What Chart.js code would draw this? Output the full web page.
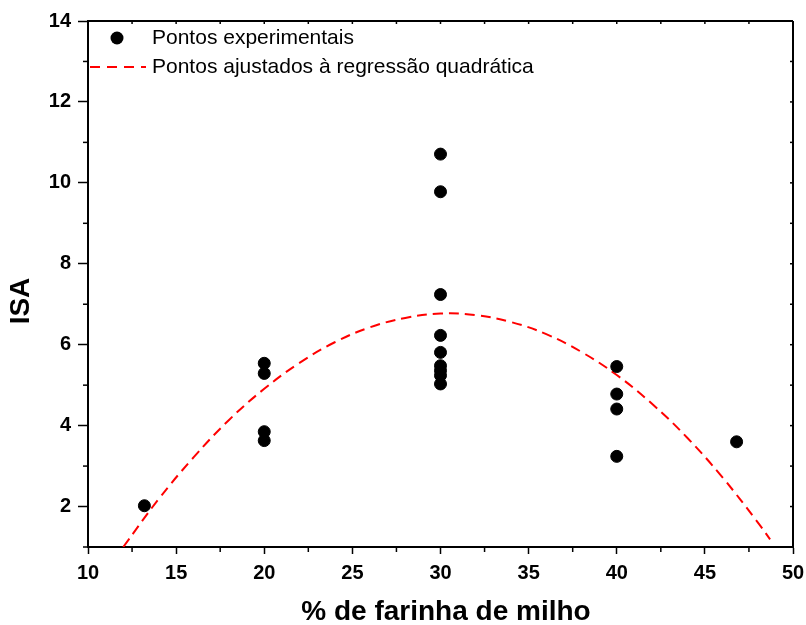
<!DOCTYPE html>
<html>
<head>
<meta charset="utf-8">
<script src="https://cdn.jsdelivr.net/npm/chart.js@4/dist/chart.umd.min.js"></script>
<style>
  html, body { margin: 0; padding: 0; background: #fff; }
</style>
</head>
<body>
<canvas id="grafico" width="806" height="625"></canvas>
<script>
// pontos experimentais
const farinhaPontos = [13.2, 20, 20, 20, 20, 30, 30, 30, 30, 30, 30, 30, 30, 30, 40, 40, 40, 40, 46.8];
const isaPontos = [2.02, 5.54, 5.29, 3.85, 3.63, 10.71, 9.78, 7.24, 6.23, 5.81, 5.48, 5.36, 5.24, 5.03, 5.46, 4.78, 4.41, 3.24, 3.6];

// curva da regressao quadratica
const farinhaAjuste = [12, 14, 16, 18, 20, 22, 24, 26, 28, 30, 32, 34, 36, 38, 40, 42, 44, 46, 48, 48.7];
const isaAjuste = [1.00, 2.18, 3.22, 4.14, 4.91, 5.55, 6.06, 6.43, 6.66, 6.77, 6.73, 6.56, 6.26, 5.82, 5.25, 4.54, 3.70, 2.72, 1.61, 1.19];

const xTicks = [10, 15, 20, 25, 30, 35, 40, 45, 50];
const yTicks = [2, 4, 6, 8, 10, 12, 14];

const fonte = '"Liberation Sans", Arial, Helvetica, sans-serif';

const extras = {
  id: 'extras',
  afterDraw(chart) {
    const { ctx, chartArea: a, scales: { x, y } } = chart;
    const seg = (x1, y1, x2, y2) => { ctx.beginPath(); ctx.moveTo(x1, y1); ctx.lineTo(x2, y2); ctx.stroke(); };
    ctx.save();
    ctx.strokeStyle = '#000';
    // moldura superior e direita
    ctx.lineWidth = 2;
    seg(a.left - 1, a.top, a.right, a.top);
    seg(a.right, a.top, a.right, a.bottom + 1);
    // ticks menores
    ctx.lineWidth = 1.5;
    for (let v = 12.5; v < 50; v += 5) {
      const px = x.getPixelForValue(v);
      seg(px, a.bottom, px, a.bottom + 5);
    }
    for (let v = 12.5; v < 50; v += 2.5) {
      const px = x.getPixelForValue(v);
      seg(px, a.top, px, a.top + 3);
    }
    for (let v = 1; v < 14; v += 2) {
      const py = y.getPixelForValue(v);
      seg(a.left - 5, py, a.left, py);
    }
    for (let v = 2; v < 14; v += 1) {
      const py = y.getPixelForValue(v);
      seg(a.right - 3, py, a.right, py);
    }
    // titulos dos eixos
    ctx.fillStyle = '#000';
    ctx.font = 'bold 28px ' + fonte;
    ctx.textAlign = 'center';
    ctx.textBaseline = 'middle';
    ctx.fillText('% de farinha de milho', 446, 612);
    ctx.save();
    ctx.translate(21, 301);
    ctx.rotate(-Math.PI / 2);
    ctx.fillText('ISA', 0, 0);
    ctx.restore();
    // legenda
    ctx.beginPath();
    ctx.arc(117, 38, 6.5, 0, Math.PI * 2);
    ctx.fill();
    ctx.strokeStyle = '#ff0000';
    ctx.lineWidth = 2;
    ctx.setLineDash([10, 7]);
    seg(90, 67, 146, 67);
    ctx.setLineDash([]);
    ctx.font = '21px ' + fonte;
    ctx.textAlign = 'left';
    ctx.fillText('Pontos experimentais', 152, 38);
    ctx.fillText('Pontos ajustados à regressão quadrática', 152, 67);
    ctx.restore();
  }
};

new Chart(document.getElementById('grafico'), {
  type: 'scatter',
  data: {
    datasets: [
      {
        label: 'Pontos ajustados à regressão quadrática',
        data: farinhaAjuste.map((v, i) => ({ x: v, y: isaAjuste[i] })),
        showLine: true,
        borderColor: '#ff0000',
        borderWidth: 2,
        borderDash: [10, 6],
        tension: 0.4,
        pointRadius: 0,
        order: 2
      },
      {
        label: 'Pontos experimentais',
        data: farinhaPontos.map((v, i) => ({ x: v, y: isaPontos[i] })),
        backgroundColor: '#000',
        borderColor: '#000',
        pointRadius: 6,
        order: 1
      }
    ]
  },
  options: {
    responsive: false,
    animation: false,
    layout: { padding: { top: 21, right: 13, left: 0, bottom: 0 } },
    plugins: { legend: { display: false }, tooltip: { enabled: false } },
    scales: {
      x: {
        type: 'linear',
        min: 10,
        max: 50,
        afterBuildTicks: s => { s.ticks = xTicks.map(v => ({ value: v })); },
        afterFit: s => { s.height = 78; s.paddingLeft = 0; s.paddingRight = 0; },
        ticks: { color: '#000', font: { family: fonte, size: 20, weight: 'bold' }, padding: 7, maxRotation: 0 },
        grid: { drawOnChartArea: false, tickLength: 7, tickWidth: 1.5, tickColor: '#000' },
        border: { color: '#000', width: 2 }
      },
      y: {
        type: 'linear',
        min: 1,
        max: 14,
        afterBuildTicks: s => { s.ticks = yTicks.map(v => ({ value: v })); },
        afterFit: s => { s.width = 88; s.paddingTop = 0; s.paddingBottom = 0; },
        ticks: { color: '#000', font: { family: fonte, size: 20, weight: 'bold' }, padding: 7 },
        grid: { drawOnChartArea: false, tickLength: 10, tickWidth: 1.5, tickColor: '#000' },
        border: { color: '#000', width: 2 }
      }
    }
  },
  plugins: [extras]
});
</script>
</body>
</html>
